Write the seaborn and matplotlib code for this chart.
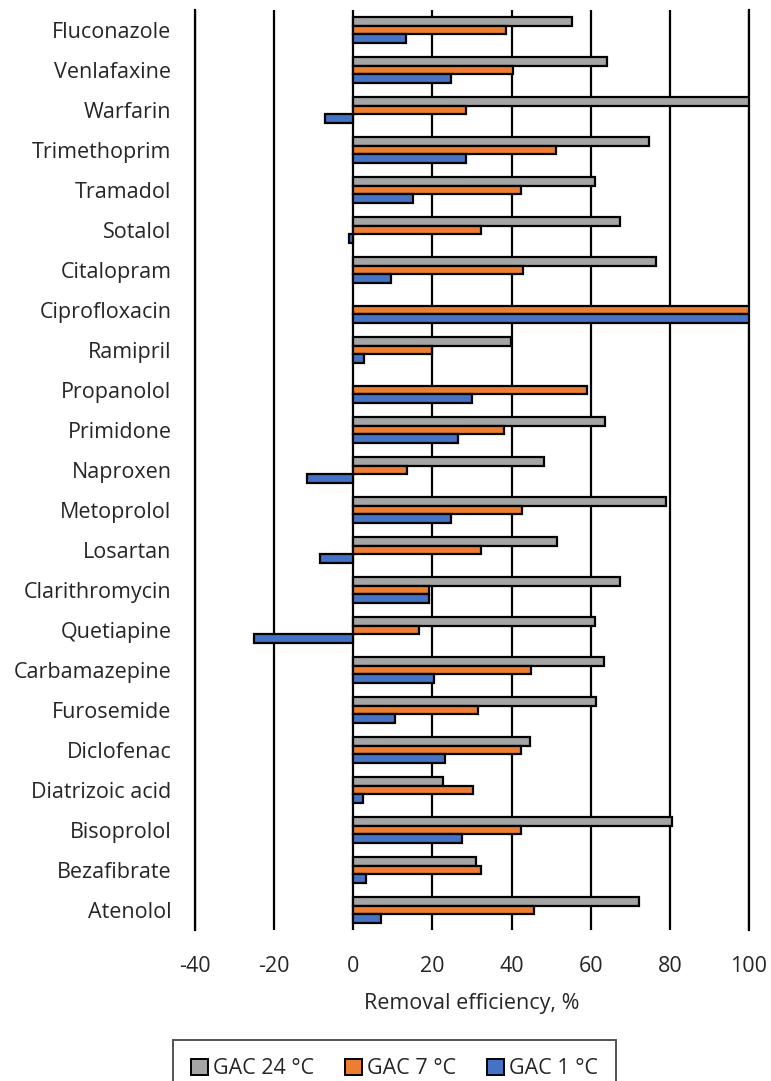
import numpy as np
import pandas as pd
import matplotlib
matplotlib.use("Agg")
import matplotlib.pyplot as plt
import seaborn as sns
from matplotlib.patches import Patch

compounds = [
    "Fluconazole", "Venlafaxine", "Warfarin", "Trimethoprim", "Tramadol",
    "Sotalol", "Citalopram", "Ciprofloxacin", "Ramipril", "Propanolol",
    "Primidone", "Naproxen", "Metoprolol", "Losartan", "Clarithromycin",
    "Quetiapine", "Carbamazepine", "Furosemide", "Diclofenac",
    "Diatrizoic acid", "Bisoprolol", "Bezafibrate", "Atenolol",
]

gac_24 = [55.2, 64.1, 100.0, 74.7, 61.1, 67.5, 76.5, np.nan, 39.8, np.nan,
          63.7, 48.2, 78.9, 51.6, 67.4, 61.1, 63.4, 61.3, 44.7, 22.6,
          80.5, 31.1, 72.1]
gac_7 = [38.5, 40.3, 28.5, 51.2, 42.3, 32.4, 42.8, 100.0, 19.9, 59.0,
         38.2, 13.6, 42.6, 32.3, 19.2, 16.7, 44.9, 31.6, 42.4, 30.3,
         42.4, 32.4, 45.7]
gac_1 = [13.3, 24.7, -7.2, 28.5, 15.1, -1.0, 9.5, 100.0, 2.8, 30.0,
         26.5, -11.8, 24.6, -8.4, 19.2, -25.1, 20.3, 10.5, 23.2, 2.4,
         27.5, 3.1, 7.0]

series_names = ["GAC 24 °C", "GAC 7 °C", "GAC 1 °C"]
series_colors = ["#A5A5A5", "#ED7D31", "#4472C4"]
x_ticks = [-40, -20, 0, 20, 40, 60, 80, 100]

df = pd.DataFrame({
    "Compound": compounds * 3,
    "Series": [series_names[0]] * len(compounds)
              + [series_names[1]] * len(compounds)
              + [series_names[2]] * len(compounds),
    "Removal": gac_24 + gac_7 + gac_1,
})

sns.set_style("white")
plt.rcParams["font.family"] = ["Open Sans", "DejaVu Sans"]

text_color = "#262626"
fs = 15.5

fig = plt.figure(figsize=(7.71, 10.81), dpi=100)
ax = fig.add_axes([195 / 771, 1 - 930 / 1081, (749 - 195) / 771, 920 / 1081])

sns.barplot(
    data=df, x="Removal", y="Compound", hue="Series",
    order=compounds, hue_order=series_names, palette=series_colors,
    orient="h", width=0.63, dodge=True, errorbar=None,
    edgecolor="black", linewidth=1.6, saturation=1, ax=ax, legend=False,
    zorder=3,
)

ax.set_xlim(-40, 100)
ax.set_ylim(len(compounds) - 0.5, -0.5)
ax.set_xticks(x_ticks)
ax.set_xticklabels([str(t) for t in x_ticks])
ax.xaxis.grid(True, color="black", linewidth=1.6, zorder=1)
ax.yaxis.grid(False)
ax.set_axisbelow(True)

for side in ["top", "bottom"]:
    ax.spines[side].set_visible(False)
for side in ["left", "right"]:
    ax.spines[side].set_visible(True)
    ax.spines[side].set_color("black")
    ax.spines[side].set_linewidth(1.6)

ax.tick_params(axis="y", length=0, pad=17, labelsize=fs, colors=text_color)
ax.tick_params(axis="x", length=0, pad=19, labelsize=fs, colors=text_color)
ax.set_ylabel("")
ax.set_xlabel("Removal efficiency, %", fontsize=fs, color=text_color, labelpad=11)

handles = [Patch(facecolor=c, edgecolor="black", linewidth=1.4) for c in series_colors]
leg = fig.legend(
    handles, series_names, loc="upper center",
    bbox_to_anchor=(394.5 / 771, 1 - 1040 / 1081), ncol=3,
    fontsize=fs, frameon=True, fancybox=False, edgecolor=text_color,
    handlelength=0.8, handleheight=0.8, handletextpad=0.25, columnspacing=1.4,
    borderpad=0.85, borderaxespad=0,
)
leg.get_frame().set_linewidth(1.4)
for t in leg.get_texts():
    t.set_color(text_color)

fig.savefig("out.png", dpi=100)
